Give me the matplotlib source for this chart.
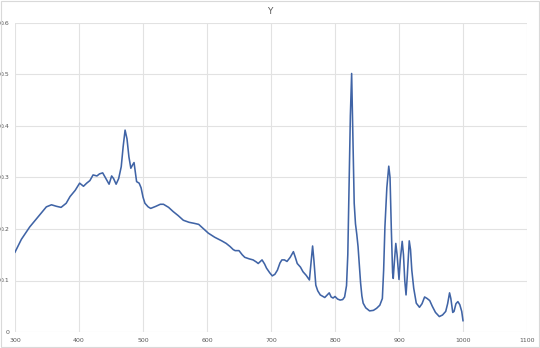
import matplotlib
matplotlib.use("Agg")
import matplotlib.pyplot as plt
from matplotlib.patches import Rectangle

# Wavelength (x) and Y values
wavelength = [
    300, 310, 323, 335, 349, 357, 365, 372, 380, 386, 394, 401, 407, 412, 417, 422,
    428, 432, 437, 442, 447, 451, 454, 458, 462, 466, 469, 472, 475, 478, 481, 484,
    486, 488, 490, 494, 497, 500, 503, 508, 512, 520, 527, 532, 540, 547, 555, 563,
    572, 580, 587, 595, 602, 612, 623, 630, 636, 641, 644, 650, 655, 659, 666, 672,
    677, 680, 686, 690, 693, 698, 702, 706, 710, 714, 717, 721, 725, 730, 735, 738,
    741, 746, 750, 755, 760, 763, 765, 767, 770, 773, 777, 784, 788, 791, 794, 797,
    800, 804, 808, 812, 815, 818, 820, 822, 824, 826, 828, 830, 832, 834, 836, 838,
    840, 842, 844, 848, 854, 860, 865, 870, 874, 876, 878, 881, 884, 886, 888, 890,
    891, 893, 895, 897, 900, 902, 905, 907, 909, 911, 913, 916, 918, 920, 923, 927,
    932, 936, 940, 944, 948, 952, 957, 963, 968, 973, 976, 979, 981, 984, 986, 989,
    992, 995, 998, 1000,
]
y_values = [
    0.155, 0.180, 0.204, 0.222, 0.243, 0.247, 0.244, 0.242, 0.250, 0.263, 0.275, 0.289,
    0.283, 0.289, 0.294, 0.305, 0.303, 0.307, 0.309, 0.298, 0.287, 0.303, 0.298, 0.287,
    0.298, 0.321, 0.360, 0.392, 0.375, 0.340, 0.318, 0.325, 0.329, 0.310, 0.292, 0.289,
    0.280, 0.262, 0.250, 0.243, 0.240, 0.244, 0.248, 0.248, 0.242, 0.234, 0.226, 0.217,
    0.213, 0.211, 0.209, 0.200, 0.192, 0.184, 0.177, 0.172, 0.166, 0.160, 0.158, 0.158,
    0.150, 0.145, 0.142, 0.140, 0.136, 0.133, 0.140, 0.132, 0.124, 0.115, 0.109, 0.112,
    0.120, 0.134, 0.140, 0.140, 0.137, 0.145, 0.156, 0.145, 0.133, 0.126, 0.117, 0.110,
    0.101, 0.140, 0.167, 0.140, 0.091, 0.080, 0.072, 0.067, 0.072, 0.076, 0.068, 0.066,
    0.069, 0.064, 0.062, 0.063, 0.068, 0.090, 0.150, 0.280, 0.420, 0.502, 0.380, 0.250,
    0.210, 0.190, 0.166, 0.130, 0.095, 0.070, 0.056, 0.047, 0.041, 0.042, 0.046, 0.052,
    0.065, 0.120, 0.204, 0.280, 0.322, 0.300, 0.200, 0.115, 0.104, 0.140, 0.172, 0.150,
    0.102, 0.140, 0.176, 0.150, 0.100, 0.072, 0.110, 0.177, 0.160, 0.120, 0.085, 0.056,
    0.048, 0.055, 0.068, 0.065, 0.061, 0.050, 0.038, 0.030, 0.033, 0.040, 0.055, 0.076,
    0.065, 0.038, 0.040, 0.055, 0.059, 0.053, 0.040, 0.022,
]

x_ticks = [300, 400, 500, 600, 700, 800, 900, 1000, 1100]
y_ticks = [0, 0.1, 0.2, 0.3, 0.4, 0.5, 0.6]
y_tick_labels = ["0", "0.1", "0.2", "0.3", "0.4", "0.5", "0.6"]
title = "Y"

fig = plt.figure(figsize=(5.4, 3.48), dpi=100)
ax = fig.add_axes([15 / 540, 1 - 332 / 348, (527 - 15) / 540, (332 - 23) / 348])

ax.plot(wavelength, y_values, color="#4064A6", linewidth=1.15, solid_joinstyle="round")

ax.set_xlim(300, 1100)
ax.set_ylim(0, 0.6)
ax.set_xticks(x_ticks)
ax.set_xticklabels([str(t) for t in x_ticks])
ax.set_yticks(y_ticks)
ax.set_yticklabels(y_tick_labels)
ax.grid(True, color="#E2E2E2", linewidth=0.8)
ax.set_axisbelow(True)
for s in ax.spines.values():
    s.set_visible(False)
ax.tick_params(axis="both", length=0, labelsize=4.5, colors="#595959", pad=4)

fig.text(270 / 540, 1 - 11 / 348, title, ha="center", va="center", fontsize=6.5, color="#595959")

fig.patches.append(Rectangle((0.002, 0.003), 0.996, 0.994, transform=fig.transFigure,
                             fill=False, edgecolor="#D9D9D9", linewidth=0.8))

fig.savefig("out.png", dpi=100)
